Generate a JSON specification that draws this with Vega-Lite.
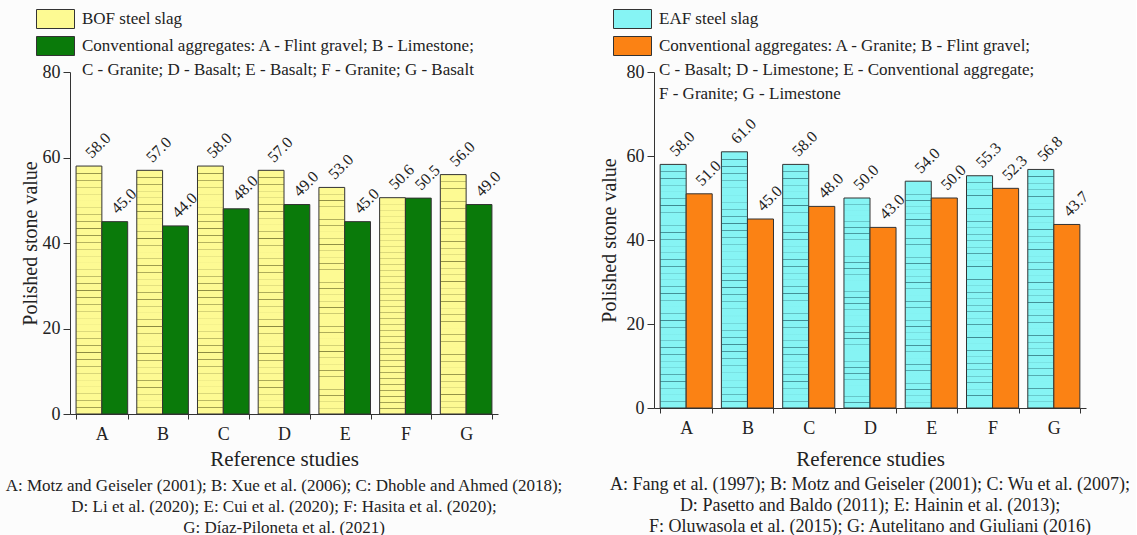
{
  "$schema": "https://vega.github.io/schema/vega-lite/v6.json",
  "background": "#fcfcfc",
  "padding": {"left": 5, "top": 9, "right": 5, "bottom": 0},
  "spacing": 156,
  "bounds": "flush",
  "config": {
    "font": "Liberation Serif",
    "view": {"stroke": null},
    "style": {"guide-label": {"lineHeight": 24}},
    "axis": {"labelFont": "Liberation Serif", "titleFont": "Liberation Serif", "labelColor": "#222", "titleColor": "#222", "domainColor": "#333", "tickColor": "#333", "titleFontWeight": "normal", "grid": false},
    "legend": {"labelFont": "Liberation Serif", "labelColor": "#222"},
    "title": {"font": "Liberation Serif", "color": "#222", "fontWeight": "normal"},
    "text": {"font": "Liberation Serif"}
  },
  "datasets": {
    "bof": [
      {"study": "A", "series": "BOF steel slag", "value": 58.0},
      {"study": "A", "series": "Conventional aggregates", "value": 45.0},
      {"study": "B", "series": "BOF steel slag", "value": 57.0},
      {"study": "B", "series": "Conventional aggregates", "value": 44.0},
      {"study": "C", "series": "BOF steel slag", "value": 58.0},
      {"study": "C", "series": "Conventional aggregates", "value": 48.0},
      {"study": "D", "series": "BOF steel slag", "value": 57.0},
      {"study": "D", "series": "Conventional aggregates", "value": 49.0},
      {"study": "E", "series": "BOF steel slag", "value": 53.0},
      {"study": "E", "series": "Conventional aggregates", "value": 45.0},
      {"study": "F", "series": "BOF steel slag", "value": 50.6},
      {"study": "F", "series": "Conventional aggregates", "value": 50.5},
      {"study": "G", "series": "BOF steel slag", "value": 56.0},
      {"study": "G", "series": "Conventional aggregates", "value": 49.0}
    ],
    "eaf": [
      {"study": "A", "series": "EAF steel slag", "value": 58.0},
      {"study": "A", "series": "Conventional aggregates ", "value": 51.0},
      {"study": "B", "series": "EAF steel slag", "value": 61.0},
      {"study": "B", "series": "Conventional aggregates ", "value": 45.0},
      {"study": "C", "series": "EAF steel slag", "value": 58.0},
      {"study": "C", "series": "Conventional aggregates ", "value": 48.0},
      {"study": "D", "series": "EAF steel slag", "value": 50.0},
      {"study": "D", "series": "Conventional aggregates ", "value": 43.0},
      {"study": "E", "series": "EAF steel slag", "value": 54.0},
      {"study": "E", "series": "Conventional aggregates ", "value": 50.0},
      {"study": "F", "series": "EAF steel slag", "value": 55.3},
      {"study": "F", "series": "Conventional aggregates ", "value": 52.3},
      {"study": "G", "series": "EAF steel slag", "value": 56.8},
      {"study": "G", "series": "Conventional aggregates ", "value": 43.7}
    ]
  },
  "resolve": {"scale": {"color": "independent", "y": "independent", "x": "independent", "xOffset": "independent"}},
  "hconcat": [
    {
      "width": 428,
      "height": 342,
      "data": {"name": "bof"},
      "title": {"text": ["A: Motz and Geiseler (2001); B: Xue et al. (2006); C: Dhoble and Ahmed (2018);", "D: Li et al. (2020); E: Cui et al. (2020); F: Hasita et al. (2020);", "G: Díaz-Piloneta et al. (2021)"], "orient": "bottom", "anchor": "middle", "font": "Liberation Serif", "fontSize": 17, "lineHeight": 21, "offset": 9},
      "encoding": {
        "x": {"field": "study", "type": "nominal", "scale": {"paddingInner": 0.15, "paddingOuter": 0.1}, "axis": {"title": "Reference studies", "titleFontSize": 21, "titlePadding": 5, "labelFontSize": 18, "labelAngle": 0, "labelPadding": 6, "tickBand": "extent", "tickSize": 5}},
        "xOffset": {"field": "series", "type": "nominal", "scale": {"domain": ["BOF steel slag", "Conventional aggregates"], "paddingInner": 0, "paddingOuter": 0}},
        "y": {"field": "value", "type": "quantitative", "scale": {"domain": [0, 80], "nice": false}, "axis": {"title": "Polished stone value", "titleFontSize": 20, "titlePadding": 2, "labelFontSize": 18, "values": [0, 20, 40, 60, 80], "tickSize": 7, "labelPadding": 3}}
      },
      "layer": [
        {
          "mark": {"type": "bar", "stroke": "#333", "strokeWidth": 1},
          "encoding": {
            "color": {"field": "series", "type": "nominal", "scale": {"domain": ["BOF steel slag", "Conventional aggregates"], "range": ["#fdfa93", "#0a7a0a"]},
              "legend": {"title": null, "orient": "none", "legendX": -24.5, "legendY": -63, "symbolType": "M-2,-1H2V1H-2Z", "symbolSize": 361, "symbolStrokeColor": "#333", "symbolStrokeWidth": 1, "labelFont": "Liberation Serif", "labelFontSize": 17, "labelLimit": 600, "rowPadding": 3, "labelOffset": 16.5,
                "labelExpr": "datum.label == 'Conventional aggregates' ? ['Conventional aggregates: A - Flint gravel; B - Limestone;', 'C - Granite; D - Basalt; E - Basalt; F - Granite; G - Basalt'] : datum.label"}}
          }
        },
        {
          "transform": [{"filter": "datum.series == 'BOF steel slag'"}],
          "mark": {"type": "bar", "strokeWidth": 0, "fill": {"gradient": "linear", "x1": 0, "y1": 0, "x2": 0, "y2": 1, "stops": [
            {"offset": 0.0278, "color": "rgba(90,90,30,0)"}, {"offset": 0.0298, "color": "rgba(90,90,30,0.7)"}, {"offset": 0.0318, "color": "rgba(90,90,30,0)"},
            {"offset": 0.0556, "color": "rgba(90,90,30,0)"}, {"offset": 0.0576, "color": "rgba(90,90,30,0.7)"}, {"offset": 0.0596, "color": "rgba(90,90,30,0)"},
            {"offset": 0.0833, "color": "rgba(90,90,30,0)"}, {"offset": 0.0853, "color": "rgba(90,90,30,0.7)"}, {"offset": 0.0873, "color": "rgba(90,90,30,0)"},
            {"offset": 0.1111, "color": "rgba(90,90,30,0)"}, {"offset": 0.1131, "color": "rgba(90,90,30,0.7)"}, {"offset": 0.1151, "color": "rgba(90,90,30,0)"},
            {"offset": 0.1389, "color": "rgba(90,90,30,0)"}, {"offset": 0.1409, "color": "rgba(90,90,30,0.7)"}, {"offset": 0.1429, "color": "rgba(90,90,30,0)"},
            {"offset": 0.1667, "color": "rgba(90,90,30,0)"}, {"offset": 0.1687, "color": "rgba(90,90,30,0.7)"}, {"offset": 0.1707, "color": "rgba(90,90,30,0)"},
            {"offset": 0.1944, "color": "rgba(90,90,30,0)"}, {"offset": 0.1964, "color": "rgba(90,90,30,0.7)"}, {"offset": 0.1984, "color": "rgba(90,90,30,0)"},
            {"offset": 0.2222, "color": "rgba(90,90,30,0)"}, {"offset": 0.2242, "color": "rgba(90,90,30,0.7)"}, {"offset": 0.2262, "color": "rgba(90,90,30,0)"},
            {"offset": 0.2500, "color": "rgba(90,90,30,0)"}, {"offset": 0.2520, "color": "rgba(90,90,30,0.7)"}, {"offset": 0.2540, "color": "rgba(90,90,30,0)"},
            {"offset": 0.2778, "color": "rgba(90,90,30,0)"}, {"offset": 0.2798, "color": "rgba(90,90,30,0.7)"}, {"offset": 0.2818, "color": "rgba(90,90,30,0)"},
            {"offset": 0.3056, "color": "rgba(90,90,30,0)"}, {"offset": 0.3076, "color": "rgba(90,90,30,0.7)"}, {"offset": 0.3096, "color": "rgba(90,90,30,0)"},
            {"offset": 0.3333, "color": "rgba(90,90,30,0)"}, {"offset": 0.3353, "color": "rgba(90,90,30,0.7)"}, {"offset": 0.3373, "color": "rgba(90,90,30,0)"},
            {"offset": 0.3611, "color": "rgba(90,90,30,0)"}, {"offset": 0.3631, "color": "rgba(90,90,30,0.7)"}, {"offset": 0.3651, "color": "rgba(90,90,30,0)"},
            {"offset": 0.3889, "color": "rgba(90,90,30,0)"}, {"offset": 0.3909, "color": "rgba(90,90,30,0.7)"}, {"offset": 0.3929, "color": "rgba(90,90,30,0)"},
            {"offset": 0.4167, "color": "rgba(90,90,30,0)"}, {"offset": 0.4187, "color": "rgba(90,90,30,0.7)"}, {"offset": 0.4207, "color": "rgba(90,90,30,0)"},
            {"offset": 0.4444, "color": "rgba(90,90,30,0)"}, {"offset": 0.4464, "color": "rgba(90,90,30,0.7)"}, {"offset": 0.4484, "color": "rgba(90,90,30,0)"},
            {"offset": 0.4722, "color": "rgba(90,90,30,0)"}, {"offset": 0.4742, "color": "rgba(90,90,30,0.7)"}, {"offset": 0.4762, "color": "rgba(90,90,30,0)"},
            {"offset": 0.5000, "color": "rgba(90,90,30,0)"}, {"offset": 0.5020, "color": "rgba(90,90,30,0.7)"}, {"offset": 0.5040, "color": "rgba(90,90,30,0)"},
            {"offset": 0.5278, "color": "rgba(90,90,30,0)"}, {"offset": 0.5298, "color": "rgba(90,90,30,0.7)"}, {"offset": 0.5318, "color": "rgba(90,90,30,0)"},
            {"offset": 0.5556, "color": "rgba(90,90,30,0)"}, {"offset": 0.5576, "color": "rgba(90,90,30,0.7)"}, {"offset": 0.5596, "color": "rgba(90,90,30,0)"},
            {"offset": 0.5833, "color": "rgba(90,90,30,0)"}, {"offset": 0.5853, "color": "rgba(90,90,30,0.7)"}, {"offset": 0.5873, "color": "rgba(90,90,30,0)"},
            {"offset": 0.6111, "color": "rgba(90,90,30,0)"}, {"offset": 0.6131, "color": "rgba(90,90,30,0.7)"}, {"offset": 0.6151, "color": "rgba(90,90,30,0)"},
            {"offset": 0.6389, "color": "rgba(90,90,30,0)"}, {"offset": 0.6409, "color": "rgba(90,90,30,0.7)"}, {"offset": 0.6429, "color": "rgba(90,90,30,0)"},
            {"offset": 0.6667, "color": "rgba(90,90,30,0)"}, {"offset": 0.6687, "color": "rgba(90,90,30,0.7)"}, {"offset": 0.6707, "color": "rgba(90,90,30,0)"},
            {"offset": 0.6944, "color": "rgba(90,90,30,0)"}, {"offset": 0.6964, "color": "rgba(90,90,30,0.7)"}, {"offset": 0.6984, "color": "rgba(90,90,30,0)"},
            {"offset": 0.7222, "color": "rgba(90,90,30,0)"}, {"offset": 0.7242, "color": "rgba(90,90,30,0.7)"}, {"offset": 0.7262, "color": "rgba(90,90,30,0)"},
            {"offset": 0.7500, "color": "rgba(90,90,30,0)"}, {"offset": 0.7520, "color": "rgba(90,90,30,0.7)"}, {"offset": 0.7540, "color": "rgba(90,90,30,0)"},
            {"offset": 0.7778, "color": "rgba(90,90,30,0)"}, {"offset": 0.7798, "color": "rgba(90,90,30,0.7)"}, {"offset": 0.7818, "color": "rgba(90,90,30,0)"},
            {"offset": 0.8056, "color": "rgba(90,90,30,0)"}, {"offset": 0.8076, "color": "rgba(90,90,30,0.7)"}, {"offset": 0.8096, "color": "rgba(90,90,30,0)"},
            {"offset": 0.8333, "color": "rgba(90,90,30,0)"}, {"offset": 0.8353, "color": "rgba(90,90,30,0.7)"}, {"offset": 0.8373, "color": "rgba(90,90,30,0)"},
            {"offset": 0.8611, "color": "rgba(90,90,30,0)"}, {"offset": 0.8631, "color": "rgba(90,90,30,0.7)"}, {"offset": 0.8651, "color": "rgba(90,90,30,0)"},
            {"offset": 0.8889, "color": "rgba(90,90,30,0)"}, {"offset": 0.8909, "color": "rgba(90,90,30,0.7)"}, {"offset": 0.8929, "color": "rgba(90,90,30,0)"},
            {"offset": 0.9167, "color": "rgba(90,90,30,0)"}, {"offset": 0.9187, "color": "rgba(90,90,30,0.7)"}, {"offset": 0.9207, "color": "rgba(90,90,30,0)"},
            {"offset": 0.9444, "color": "rgba(90,90,30,0)"}, {"offset": 0.9464, "color": "rgba(90,90,30,0.7)"}, {"offset": 0.9484, "color": "rgba(90,90,30,0)"},
            {"offset": 0.9722, "color": "rgba(90,90,30,0)"}, {"offset": 0.9742, "color": "rgba(90,90,30,0.7)"}, {"offset": 0.9762, "color": "rgba(90,90,30,0)"}
          ]}}
        },
        {
          "mark": {"type": "text", "angle": -45, "align": "left", "baseline": "bottom", "dx": 7, "font": "Liberation Serif", "fontSize": 16, "color": "#222"},
          "encoding": {"text": {"field": "value", "type": "quantitative", "format": ".1f"}}
        }
      ]
    },
    {
      "width": 432,
      "height": 336,
      "data": {"name": "eaf"},
      "title": {"text": ["A: Fang et al. (1997); B: Motz and Geiseler (2001); C: Wu et al. (2007);", "D: Pasetto and Baldo (2011); E: Hainin et al. (2013);", "F: Oluwasola et al. (2015); G: Autelitano and Giuliani (2016)"], "orient": "bottom", "anchor": "middle", "font": "Liberation Serif", "fontSize": 18, "lineHeight": 21, "offset": 7},
      "encoding": {
        "x": {"field": "study", "type": "nominal", "scale": {"paddingInner": 0.15, "paddingOuter": 0.1}, "axis": {"title": "Reference studies", "titleFontSize": 21, "titlePadding": 11, "labelFontSize": 18, "labelAngle": 0, "labelPadding": 6, "tickBand": "extent", "tickSize": 5}},
        "xOffset": {"field": "series", "type": "nominal", "scale": {"domain": ["EAF steel slag", "Conventional aggregates "], "paddingInner": 0, "paddingOuter": 0}},
        "y": {"field": "value", "type": "quantitative", "scale": {"domain": [0, 80], "nice": false}, "axis": {"title": "Polished stone value", "titleFontSize": 20, "titlePadding": 7, "labelFontSize": 18, "values": [0, 20, 40, 60, 80], "tickSize": 7, "labelPadding": 3}}
      },
      "layer": [
        {
          "mark": {"type": "bar", "stroke": "#333", "strokeWidth": 1},
          "encoding": {
            "color": {"field": "series", "type": "nominal", "scale": {"domain": ["EAF steel slag", "Conventional aggregates "], "range": ["#86f4f4", "#fb8214"]},
              "legend": {"title": null, "orient": "none", "legendX": -31.5, "legendY": -63, "symbolType": "M-2,-1H2V1H-2Z", "symbolSize": 361, "symbolStrokeColor": "#333", "symbolStrokeWidth": 1, "labelFont": "Liberation Serif", "labelFontSize": 17, "labelLimit": 600, "rowPadding": 3, "labelOffset": 16.5,
                "labelExpr": "datum.label == 'Conventional aggregates ' ? ['Conventional aggregates: A - Granite; B - Flint gravel;', 'C - Basalt; D - Limestone; E - Conventional aggregate;', 'F - Granite; G - Limestone'] : datum.label"}}
          }
        },
        {
          "transform": [{"filter": "datum.series == 'EAF steel slag'"}],
          "mark": {"type": "bar", "strokeWidth": 0, "fill": {"gradient": "linear", "x1": 0, "y1": 0, "x2": 0, "y2": 1, "stops": [
            {"offset": 0.0278, "color": "rgba(30,90,100,0)"}, {"offset": 0.0298, "color": "rgba(30,90,100,0.7)"}, {"offset": 0.0318, "color": "rgba(30,90,100,0)"},
            {"offset": 0.0556, "color": "rgba(30,90,100,0)"}, {"offset": 0.0576, "color": "rgba(30,90,100,0.7)"}, {"offset": 0.0596, "color": "rgba(30,90,100,0)"},
            {"offset": 0.0833, "color": "rgba(30,90,100,0)"}, {"offset": 0.0853, "color": "rgba(30,90,100,0.7)"}, {"offset": 0.0873, "color": "rgba(30,90,100,0)"},
            {"offset": 0.1111, "color": "rgba(30,90,100,0)"}, {"offset": 0.1131, "color": "rgba(30,90,100,0.7)"}, {"offset": 0.1151, "color": "rgba(30,90,100,0)"},
            {"offset": 0.1389, "color": "rgba(30,90,100,0)"}, {"offset": 0.1409, "color": "rgba(30,90,100,0.7)"}, {"offset": 0.1429, "color": "rgba(30,90,100,0)"},
            {"offset": 0.1667, "color": "rgba(30,90,100,0)"}, {"offset": 0.1687, "color": "rgba(30,90,100,0.7)"}, {"offset": 0.1707, "color": "rgba(30,90,100,0)"},
            {"offset": 0.1944, "color": "rgba(30,90,100,0)"}, {"offset": 0.1964, "color": "rgba(30,90,100,0.7)"}, {"offset": 0.1984, "color": "rgba(30,90,100,0)"},
            {"offset": 0.2222, "color": "rgba(30,90,100,0)"}, {"offset": 0.2242, "color": "rgba(30,90,100,0.7)"}, {"offset": 0.2262, "color": "rgba(30,90,100,0)"},
            {"offset": 0.2500, "color": "rgba(30,90,100,0)"}, {"offset": 0.2520, "color": "rgba(30,90,100,0.7)"}, {"offset": 0.2540, "color": "rgba(30,90,100,0)"},
            {"offset": 0.2778, "color": "rgba(30,90,100,0)"}, {"offset": 0.2798, "color": "rgba(30,90,100,0.7)"}, {"offset": 0.2818, "color": "rgba(30,90,100,0)"},
            {"offset": 0.3056, "color": "rgba(30,90,100,0)"}, {"offset": 0.3076, "color": "rgba(30,90,100,0.7)"}, {"offset": 0.3096, "color": "rgba(30,90,100,0)"},
            {"offset": 0.3333, "color": "rgba(30,90,100,0)"}, {"offset": 0.3353, "color": "rgba(30,90,100,0.7)"}, {"offset": 0.3373, "color": "rgba(30,90,100,0)"},
            {"offset": 0.3611, "color": "rgba(30,90,100,0)"}, {"offset": 0.3631, "color": "rgba(30,90,100,0.7)"}, {"offset": 0.3651, "color": "rgba(30,90,100,0)"},
            {"offset": 0.3889, "color": "rgba(30,90,100,0)"}, {"offset": 0.3909, "color": "rgba(30,90,100,0.7)"}, {"offset": 0.3929, "color": "rgba(30,90,100,0)"},
            {"offset": 0.4167, "color": "rgba(30,90,100,0)"}, {"offset": 0.4187, "color": "rgba(30,90,100,0.7)"}, {"offset": 0.4207, "color": "rgba(30,90,100,0)"},
            {"offset": 0.4444, "color": "rgba(30,90,100,0)"}, {"offset": 0.4464, "color": "rgba(30,90,100,0.7)"}, {"offset": 0.4484, "color": "rgba(30,90,100,0)"},
            {"offset": 0.4722, "color": "rgba(30,90,100,0)"}, {"offset": 0.4742, "color": "rgba(30,90,100,0.7)"}, {"offset": 0.4762, "color": "rgba(30,90,100,0)"},
            {"offset": 0.5000, "color": "rgba(30,90,100,0)"}, {"offset": 0.5020, "color": "rgba(30,90,100,0.7)"}, {"offset": 0.5040, "color": "rgba(30,90,100,0)"},
            {"offset": 0.5278, "color": "rgba(30,90,100,0)"}, {"offset": 0.5298, "color": "rgba(30,90,100,0.7)"}, {"offset": 0.5318, "color": "rgba(30,90,100,0)"},
            {"offset": 0.5556, "color": "rgba(30,90,100,0)"}, {"offset": 0.5576, "color": "rgba(30,90,100,0.7)"}, {"offset": 0.5596, "color": "rgba(30,90,100,0)"},
            {"offset": 0.5833, "color": "rgba(30,90,100,0)"}, {"offset": 0.5853, "color": "rgba(30,90,100,0.7)"}, {"offset": 0.5873, "color": "rgba(30,90,100,0)"},
            {"offset": 0.6111, "color": "rgba(30,90,100,0)"}, {"offset": 0.6131, "color": "rgba(30,90,100,0.7)"}, {"offset": 0.6151, "color": "rgba(30,90,100,0)"},
            {"offset": 0.6389, "color": "rgba(30,90,100,0)"}, {"offset": 0.6409, "color": "rgba(30,90,100,0.7)"}, {"offset": 0.6429, "color": "rgba(30,90,100,0)"},
            {"offset": 0.6667, "color": "rgba(30,90,100,0)"}, {"offset": 0.6687, "color": "rgba(30,90,100,0.7)"}, {"offset": 0.6707, "color": "rgba(30,90,100,0)"},
            {"offset": 0.6944, "color": "rgba(30,90,100,0)"}, {"offset": 0.6964, "color": "rgba(30,90,100,0.7)"}, {"offset": 0.6984, "color": "rgba(30,90,100,0)"},
            {"offset": 0.7222, "color": "rgba(30,90,100,0)"}, {"offset": 0.7242, "color": "rgba(30,90,100,0.7)"}, {"offset": 0.7262, "color": "rgba(30,90,100,0)"},
            {"offset": 0.7500, "color": "rgba(30,90,100,0)"}, {"offset": 0.7520, "color": "rgba(30,90,100,0.7)"}, {"offset": 0.7540, "color": "rgba(30,90,100,0)"},
            {"offset": 0.7778, "color": "rgba(30,90,100,0)"}, {"offset": 0.7798, "color": "rgba(30,90,100,0.7)"}, {"offset": 0.7818, "color": "rgba(30,90,100,0)"},
            {"offset": 0.8056, "color": "rgba(30,90,100,0)"}, {"offset": 0.8076, "color": "rgba(30,90,100,0.7)"}, {"offset": 0.8096, "color": "rgba(30,90,100,0)"},
            {"offset": 0.8333, "color": "rgba(30,90,100,0)"}, {"offset": 0.8353, "color": "rgba(30,90,100,0.7)"}, {"offset": 0.8373, "color": "rgba(30,90,100,0)"},
            {"offset": 0.8611, "color": "rgba(30,90,100,0)"}, {"offset": 0.8631, "color": "rgba(30,90,100,0.7)"}, {"offset": 0.8651, "color": "rgba(30,90,100,0)"},
            {"offset": 0.8889, "color": "rgba(30,90,100,0)"}, {"offset": 0.8909, "color": "rgba(30,90,100,0.7)"}, {"offset": 0.8929, "color": "rgba(30,90,100,0)"},
            {"offset": 0.9167, "color": "rgba(30,90,100,0)"}, {"offset": 0.9187, "color": "rgba(30,90,100,0.7)"}, {"offset": 0.9207, "color": "rgba(30,90,100,0)"},
            {"offset": 0.9444, "color": "rgba(30,90,100,0)"}, {"offset": 0.9464, "color": "rgba(30,90,100,0.7)"}, {"offset": 0.9484, "color": "rgba(30,90,100,0)"},
            {"offset": 0.9722, "color": "rgba(30,90,100,0)"}, {"offset": 0.9742, "color": "rgba(30,90,100,0.7)"}, {"offset": 0.9762, "color": "rgba(30,90,100,0)"}
          ]}}
        },
        {
          "mark": {"type": "text", "angle": -45, "align": "left", "baseline": "bottom", "dx": 7, "font": "Liberation Serif", "fontSize": 16, "color": "#222"},
          "encoding": {"text": {"field": "value", "type": "quantitative", "format": ".1f"}}
        }
      ]
    }
  ]
}
